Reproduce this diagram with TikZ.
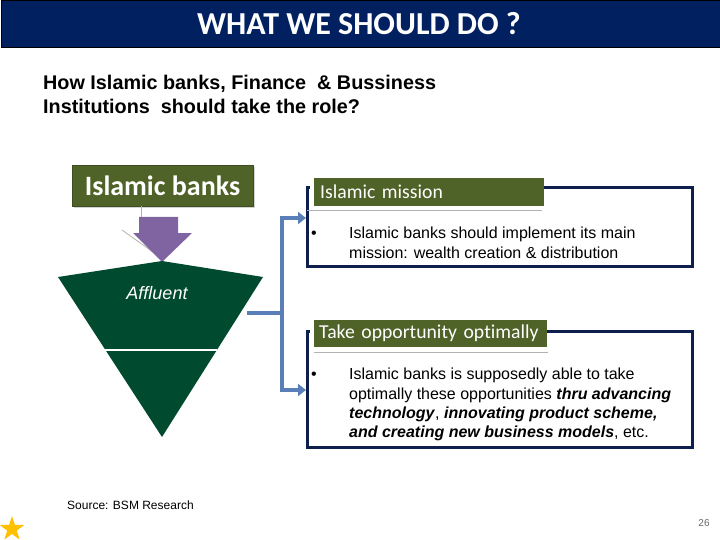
\documentclass[tikz,border=0pt]{standalone}
\usepackage{fontspec}
\setmainfont{Liberation Sans}
\newfontfamily\calib[Ligatures=NoCommon]{Carlito}
\usetikzlibrary{arrows.meta,shapes.geometric,shadows}
\definecolor{navy}{HTML}{002060}
\definecolor{boxnavy}{HTML}{0E1F4D}
\definecolor{olive}{HTML}{4F6228}
\definecolor{pyrgreen}{HTML}{004B30}
\definecolor{purp}{HTML}{8064A2}
\definecolor{conblue}{HTML}{5A7FB8}
\definecolor{gold}{HTML}{FFC000}
\tikzset{
  hdr/.style={fill=olive, text=white, inner sep=0pt, anchor=west, font=\calib\fontsize{19.7}{22}\selectfont},
  bodytxt/.style={anchor=north west, align=left, inner sep=0pt, font=\fontsize{16}{19.3}\selectfont},
  frame/.style={draw=boxnavy, line width=3pt},
  conn/.style={draw=conblue, line width=3.5pt},
  connarrow/.style={conn, -{Triangle[width=12pt,length=8pt]}},
  grayline/.style={draw=gray!60, line width=0.8pt}
}
\begin{document}
\begin{tikzpicture}[x=1pt,y=-1pt]
\useasboundingbox (0,0) rectangle (720,540);
% title bar
\node[draw=black, fill=navy, minimum width=719pt, minimum height=47pt, anchor=north west, inner sep=0pt] (bar) at (0.5,0.5) {};
\node[text=white, font=\calib\bfseries\fontsize{32}{34}\selectfont] (title) at (359,24) {WHAT WE SHOULD DO ?};
% subtitle
\node[anchor=north west, align=left, inner sep=0pt, font=\bfseries\fontsize{19.8}{24}\selectfont] (sub) at (43,75) {How Islamic banks, Finance~~\& Bussiness\\Institutions~ should take the role?};
% Islamic banks box
\node[fill=olive, draw=olive!80!black, drop shadow={shadow xshift=2pt, shadow yshift=-2pt, opacity=0.35}, minimum width=181pt, minimum height=41pt, text=white, font=\calib\bfseries\fontsize{28}{30}\selectfont, inner sep=0pt] (ib) at (162.5,185.5) {Islamic banks};
% gray lines
\coordinate (g1) at (141,229);
\draw[grayline] (ib.south -| g1) -- (g1);
\coordinate (g2a) at (122,230);
\coordinate (g2b) at (160,257);
\draw[grayline] (g2a) -- (g2b);
% purple arrow
\fill[purp] (139,217) -- (178,217) -- (178,233) -- (192,233) -- (162,262) -- (133,233) -- (139,233) -- cycle;
% pyramid
\fill[pyrgreen] (58,277) -- (162,261) -- (263,277) -- (162,437) -- cycle;
\draw[white, line width=2pt] (105,350) -- (217,350);
\node[text=white, font=\itshape\fontsize{18}{20}\selectfont] (aff) at (157,293) {Affluent};
% connectors
\coordinate (tri) at (247,313);
\coordinate (br) at (282,313);
\coordinate (brtop) at (282,218);
\coordinate (brbot) at (282,390);
\coordinate (in1) at (306,218);
\coordinate (in2) at (306,390);
\draw[conn] (tri) -- (br);
\draw[connarrow] (brbot) -- (brtop) -- (in1);
\draw[connarrow] (brtop) -- (brbot) -- (in2);
% box 1
\node[minimum width=385pt, minimum height=78pt, anchor=north west, inner sep=0pt] (box1) at (307,188) {};
\draw[frame] (542,188) -- (box1.north east) -- (box1.south east) -- (box1.south west) -- (box1.north west) -- (310,188);
\draw[grayline] (307,210) -- (542,210);
\node[hdr, minimum width=224pt, minimum height=28pt, text width=218pt, align=left, inner xsep=6pt] (h1) at (314,192) {Islamic mission};
\node[bodytxt] (t1) at (311,225) {\begin{tabular}{@{}p{38pt}@{}l@{}}\textbullet & Islamic banks should implement its main\\ & mission: wealth creation \& distribution\end{tabular}};
% box 2
\node[minimum width=385pt, minimum height=116pt, anchor=north west, inner sep=0pt] (box2) at (307,331) {};
\draw[frame] (547,331) -- (box2.north east) -- (box2.south east) -- (box2.south west) -- (box2.north west) -- (310,331);
\draw[grayline] (314,352) -- (548,352);
\node[hdr, minimum width=229pt, minimum height=27pt, text width=223pt, align=left, inner xsep=5pt] (h2) at (314,333.5) {Take opportunity optimally};
\node[bodytxt] (t2) at (311,366) {\begin{tabular}{@{}p{38pt}@{}l@{}}\textbullet & Islamic banks is supposedly able to take\\ & optimally these opportunities \textbf{\textit{thru advancing}}\\ & \textbf{\textit{technology}}, \textbf{\textit{innovating product scheme,}}\\ & \textbf{\textit{and creating new business models}}, etc.\end{tabular}};
% footer
\node[anchor=west, inner sep=0pt, font=\fontsize{12}{14}\selectfont] (src) at (67,505) {Source: BSM Research};
\node[star, star points=5, star point ratio=2.6, fill=gold, minimum size=26pt, inner sep=0pt] (star) at (12,529) {};
\node[text=gray!80!black, font=\fontsize{10}{12}\selectfont] (pg) at (704,523) {26};
\end{tikzpicture}
\end{document}
